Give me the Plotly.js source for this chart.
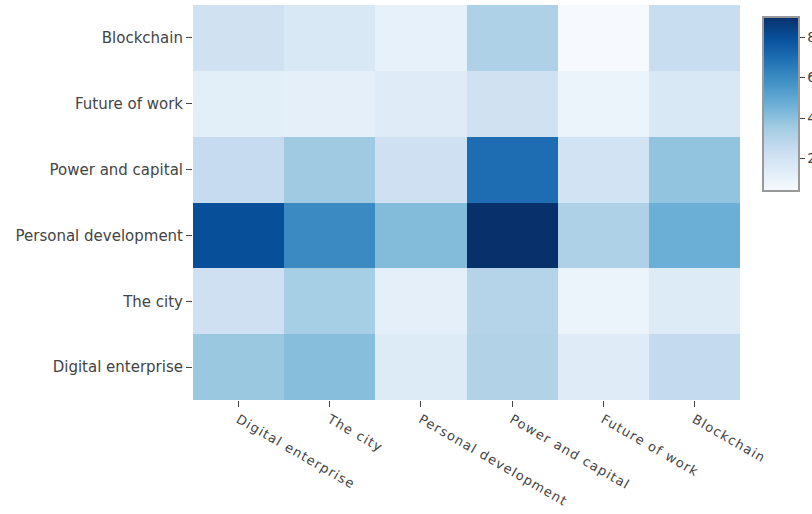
<!DOCTYPE html>
<html>
<head>
<meta charset="utf-8">
<script src="https://cdn.plot.ly/plotly-3.0.1.min.js"></script>
<style>
html,body{margin:0;padding:0;background:#fff;}
#chart{width:812px;height:514px;}
#chart .xtick text{letter-spacing:1.2px;}
</style>
</head>
<body>
<div id="chart"></div>
<script>
var xLabels = ["Digital enterprise", "The city", "Personal development", "Power and capital", "Future of work", "Blockchain"];
var yLabels = ["Digital enterprise", "The city", "Personal development", "Power and capital", "Future of work", "Blockchain"];
// rows follow yLabels (bottom to top), columns follow xLabels
var rowDigitalEnterprise = [3.7, 4.1, 1.5, 3.1, 1.45, 2.6];
var rowTheCity = [2.2, 3.4, 1.2, 3.0, 0.9, 1.5];
var rowPersonalDevelopment = [8.0, 6.0, 4.2, 9.0, 3.2, 4.7];
var rowPowerAndCapital = [2.55, 3.6, 2.2, 7.0, 2.0, 3.85];
var rowFutureOfWork = [1.3, 1.2, 1.45, 2.1, 0.9, 1.7];
var rowBlockchain = [2.1, 1.7, 1.1, 3.2, 0.45, 2.4];

var z = [rowDigitalEnterprise, rowTheCity, rowPersonalDevelopment, rowPowerAndCapital, rowFutureOfWork, rowBlockchain];

var blues = [
  [0, "#f7fbff"], [0.125, "#deebf7"], [0.25, "#c6dbef"], [0.375, "#9ecae1"],
  [0.5, "#6baed6"], [0.625, "#4292c6"], [0.75, "#2171b5"], [0.875, "#08519c"], [1, "#08306b"]
];

var trace = {
  type: "heatmap",
  x: xLabels,
  y: yLabels,
  z: z,
  zmin: 0.4,
  zmax: 9,
  colorscale: blues,
  colorbar: {
    x: 1.042, xanchor: "left", xpad: 0,
    y: 0.97, yanchor: "top", ypad: 0,
    len: 0.44, lenmode: "fraction",
    thickness: 36,
    outlinewidth: 2, outlinecolor: "#999",
    ticks: "outside", ticklen: 5, tickcolor: "#444",
    tickvals: [2, 4, 6, 8],
    tickfont: {family: "DejaVu Sans", size: 14, color: "#444"}
  }
};

var layout = {
  width: 812, height: 514,
  margin: {l: 193, r: 72, t: 5, b: 114, autoexpand: false},
  paper_bgcolor: "#fff", plot_bgcolor: "#fff",
  xaxis: {
    tickangle: 30, ticks: "outside", ticklen: 6, tickcolor: "#444",
    tickfont: {family: "DejaVu Sans", size: 13, color: "#444"},
    showgrid: false, zeroline: false
  },
  yaxis: {
    ticks: "outside", ticklen: 6, tickcolor: "#444",
    tickfont: {family: "DejaVu Sans", size: 15, color: "#444"},
    showgrid: false, zeroline: false
  }
};

Plotly.newPlot("chart", [trace], layout, {displayModeBar: false});
</script>
</body>
</html>
